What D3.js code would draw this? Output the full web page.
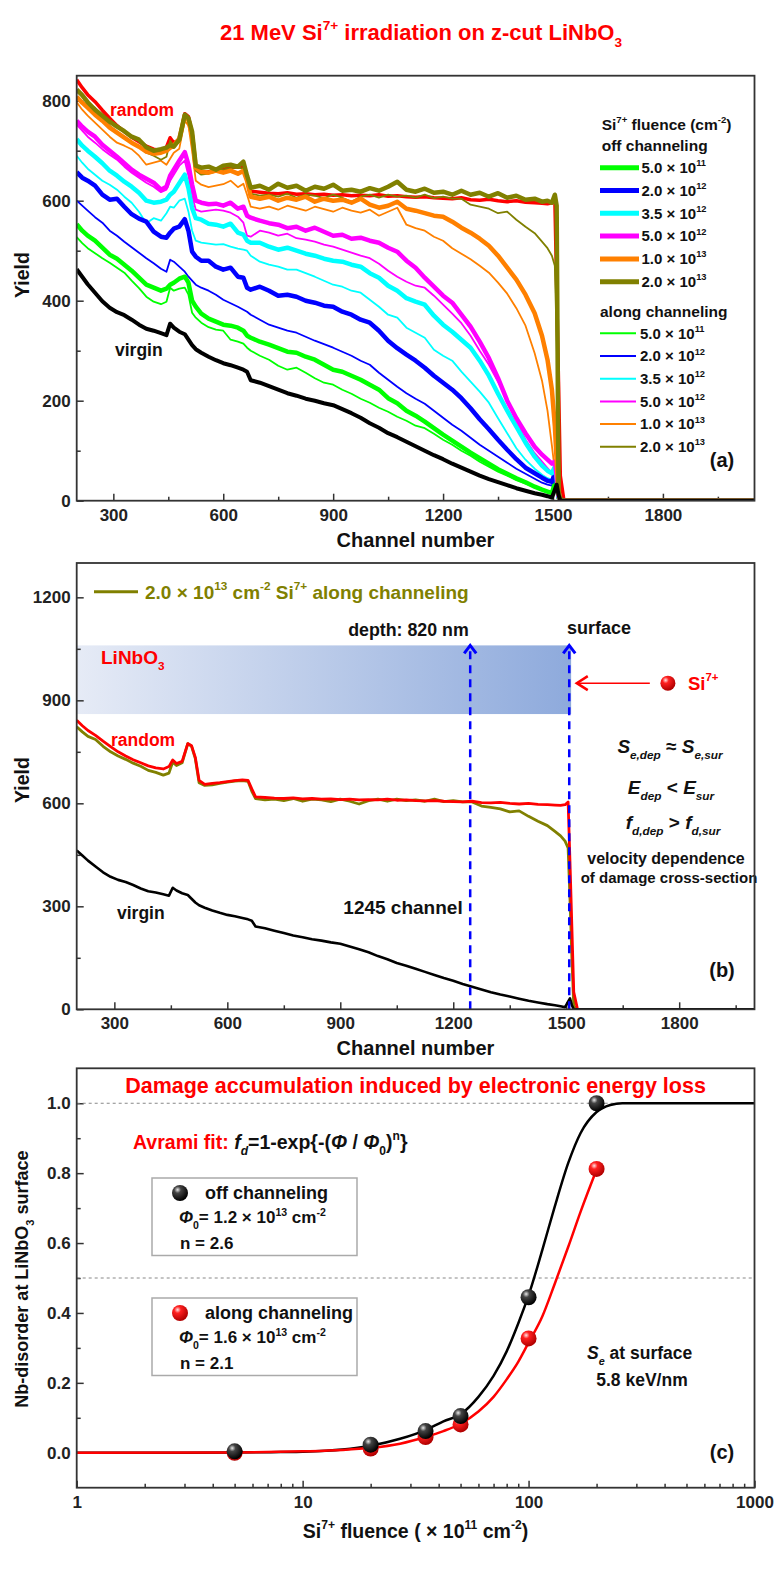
<!DOCTYPE html>
<html>
<head>
<meta charset="utf-8">
<script src="https://cdn.jsdelivr.net/npm/d3@7"></script>
<style>
  body { margin: 0; background: #fff; }
  svg { display: block; font-family: "Liberation Sans", Arial, sans-serif; font-weight: bold; }
</style>
</head>
<body>
<div id="chart"></div>
<script>
// ---- panel (a)/(b) RBS spectra ----
const channels = [
  200,215,230,250,270,290,310,330,350,370,
  390,410,430,445,455,465,480,495,505,515,
  525,540,560,580,600,620,640,655,665,675,
  700,725,750,775,800,825,850,875,900,925,
  950,975,1000,1025,1050,1075,1100,1125,1150,1175,
  1200,1225,1250,1275,1300,1325,1350,1375,1400,1425,
  1450,1470,1485,1497,1505,1510,1515,1520,1530,2050];

const virgin = [
  463,448,433,416,399,386,377,371,362,352,
  344,340,335,331,354,346,338,333,322,311,
  303,296,288,281,275,271,266,262,258,241,
  236,229,222,215,210,204,200,195,191,183,
  175,166,155,146,135,127,118,109,100,91,
  83,74,66,58,50,43,37,31,25,20,
  15,12,9,6,22,32,12,0,0,0];

const random = [
  842,826,812,798,781,765,750,738,727,718,
  709,703,700,707,726,716,722,774,768,734,
  667,655,658,660,663,666,668,667,642,619,
  617,615,614,616,613,614,612,613,611,612,
  610,611,610,612,609,610,608,607,608,606,
  605,604,606,602,601,603,600,598,600,597,
  596,595,594,596,604,430,240,50,0,0];

// off channeling (thick)
const off05 = [
  553,540,530,520,506,492,484,472,460,446,
  432,426,420,424,432,436,444,448,436,400,
  388,374,364,358,352,350,346,340,330,326,
  318,312,305,298,296,288,282,272,262,258,
  250,242,232,222,205,195,180,170,158,145,
  132,120,108,96,85,74,63,54,45,37,
  28,22,18,15,35,32,6,0,0,0];
const off2 = [
  657,646,640,630,612,602,604,588,573,564,
  558,538,528,526,536,544,548,563,540,498,
  488,480,480,468,462,466,448,446,426,422,
  428,420,410,412,408,400,396,390,388,378,
  372,362,356,340,320,305,292,280,266,250,
  236,222,205,185,163,143,122,102,83,66,
  55,46,40,38,55,40,8,0,0,0];
const off35 = [
  723,710,700,688,675,660,650,638,628,616,
  600,596,598,602,612,618,635,652,625,585,
  565,562,554,552,548,554,536,532,520,516,
  516,508,502,506,500,494,490,484,480,478,
  472,468,455,446,430,420,405,398,392,370,
  352,338,322,306,280,250,214,180,148,116,
  88,70,60,55,68,45,8,0,0,0];
const off5 = [
  760,748,738,728,712,700,688,675,662,652,
  644,636,622,628,650,662,680,697,672,632,
  600,596,593,594,590,596,584,588,570,566,
  560,555,552,545,548,540,546,538,530,532,
  524,526,520,516,506,498,480,466,446,428,
  410,396,372,348,318,285,245,200,165,135,
  108,92,82,74,78,50,10,0,0,0];
const off10 = [
  808,796,786,772,760,746,736,726,716,708,
  698,694,696,700,706,710,724,770,762,730,
  666,658,656,660,656,660,654,660,640,608,
  604,608,600,606,602,608,598,604,600,602,
  596,604,592,586,590,598,584,580,575,570,
  568,558,546,536,524,510,490,466,442,412,
  375,330,282,222,150,80,15,0,0,0];
const off20 = [
  822,811,797,782,770,758,748,739,728,722,
  707,700,703,706,711,708,722,772,765,738,
  670,666,668,662,670,672,668,678,650,626,
  630,622,634,626,630,620,628,624,632,620,
  622,618,625,620,628,638,622,618,624,616,
  618,612,620,612,616,608,615,606,610,602,
  604,598,600,596,612,590,20,0,0,0];

// along channeling (thin)
const al05 = [
  527,515,505,495,485,476,466,456,440,425,
  408,398,393,398,426,420,424,426,412,376,
  366,356,347,342,340,322,318,314,306,300,
  290,282,270,262,266,256,245,236,232,222,
  214,204,196,186,178,168,160,150,145,134,
  122,112,100,90,78,68,58,50,41,34,
  27,22,18,14,32,30,6,0,0,0];
const al2 = [
  600,590,580,567,556,540,530,518,507,496,
  485,475,464,458,482,478,468,458,448,440,
  432,426,420,412,402,395,388,382,378,372,
  362,352,346,340,336,328,320,313,306,298,
  290,280,272,256,242,228,215,204,194,180,
  166,152,140,126,112,100,88,76,64,54,
  44,36,32,30,48,35,8,0,0,0];
const al35 = [
  690,676,664,652,640,632,622,608,596,578,
  555,565,560,575,588,586,600,604,578,540,
  520,516,514,512,513,508,504,502,500,490,
  478,472,468,462,462,455,448,440,432,428,
  420,416,402,388,372,366,346,336,326,302,
  290,280,258,238,218,196,165,135,105,82,
  64,52,45,42,58,40,8,0,0,0];
const al5 = [
  752,740,728,716,703,692,682,668,656,646,
  636,628,617,622,640,652,670,680,650,610,
  582,578,580,582,580,576,568,556,530,528,
  540,536,530,534,525,522,518,512,508,502,
  496,490,485,474,460,448,438,430,426,410,
  392,374,355,330,300,272,238,200,160,122,
  95,78,65,55,60,40,8,0,0,0];
const al10 = [
  797,782,770,756,742,728,716,710,703,690,
  672,676,680,672,684,696,704,760,750,700,
  640,632,627,630,633,640,627,634,612,588,
  584,588,582,590,585,580,588,583,578,586,
  580,576,582,570,578,586,552,545,540,528,
  520,505,494,483,470,456,436,414,385,350,
  295,240,180,110,60,30,8,0,0,0];
const al20 = [
  823,808,795,786,766,750,738,728,717,708,
  696,690,682,688,720,710,718,774,766,730,
  660,652,654,658,662,665,666,664,635,614,
  610,612,608,614,606,612,610,605,612,606,
  598,608,612,606,612,608,610,606,612,605,
  608,604,604,592,588,584,575,578,562,548,
  535,518,505,490,470,320,150,10,0,0];

const fluenceMant = ["5.0", "2.0", "3.5", "5.0", "1.0", "2.0"];
const fluenceExp = ["11", "12", "12", "12", "13", "13"];
const seriesColors = ["#00ff00", "#0000ff", "#00ffff", "#ff00ff", "#ff8000", "#808000"];

// ---- panel (c) disorder vs fluence ----
const fluence = [5, 20, 35, 50, 100, 200];
const offDisorder = [0.004, 0.023, 0.062, 0.105, 0.445, 1.0];
const alongDisorder = [0.0, 0.012, 0.045, 0.081, 0.327, 0.812];
const fitOffX = [1, 3, 5, 8, 10, 15, 20, 27, 35, 42, 50, 60, 70, 80, 90, 100, 115, 130, 150, 170, 200, 230, 260, 300, 400, 1000];
const fitOffY = [0, 0, 0.0005, 0.002, 0.003, 0.009, 0.02, 0.04, 0.065, 0.09, 0.11, 0.16, 0.22, 0.29, 0.37, 0.45, 0.58, 0.70, 0.83, 0.915, 0.975, 0.995, 1.0, 1.0, 1.0, 1.0];
const fitAlongX = [1, 5, 10, 15, 20, 27, 35, 42, 50, 60, 70, 80, 90, 100, 115, 130, 150, 170, 200];
const fitAlongY = [0, 0.001, 0.004, 0.008, 0.014, 0.026, 0.045, 0.062, 0.083, 0.118, 0.16, 0.21, 0.26, 0.315, 0.39, 0.48, 0.59, 0.69, 0.81];

const W = 775, H = 1580;
const L = 76.7, R = 754.5;

const svg = d3.select("#chart").append("svg")
    .attr("width", W).attr("height", H)
    .attr("viewBox", [0, 0, W, H]);
const defs = svg.append("defs");

// text with sub/superscripts: parts are strings or [text, mode, fill]
function rich(parent, x, y, parts, o = {}) {
  const fs = o.size || 16;
  const t = parent.append("text")
      .attr("x", x).attr("y", y + fs * 0.35)
      .attr("font-size", fs)
      .attr("font-weight", "bold")
      .attr("fill", o.fill || "#111")
      .attr("text-anchor", o.anchor || "start");
  if (o.family) t.attr("font-family", o.family);
  if (o.italic) t.attr("font-style", "italic");
  let cur = 0;
  parts.forEach(p => {
    const [txt, mode = "", fill] = typeof p === "string" ? [p, ""] : p;
    const sup = mode.includes("sup"), sub = mode.includes("sub");
    const target = sup ? -0.45 * fs : sub ? 0.32 * fs : 0;
    const s = t.append("tspan").attr("dy", target - cur).text(txt);
    if (sup || sub) s.attr("font-size", fs * 0.62);
    if (mode.includes("i")) s.attr("font-style", "italic");
    if (fill) s.attr("fill", fill);
    cur = target;
  });
  return t;
}

function axes(x, y, xMajor, xMinor, yMajor, yMinor, xFmt, yFmt) {
  const [yb0] = y.range();
  const [xl] = x.range();
  const g = svg.append("g");
  g.append("g").attr("transform", `translate(0,${yb0})`)
      .call(d3.axisBottom(x).tickValues(xMinor).tickSize(-4).tickFormat(""));
  g.append("g").attr("transform", `translate(0,${yb0})`)
      .call(d3.axisBottom(x).tickValues(xMajor).tickSize(-7).tickPadding(8).tickFormat(xFmt));
  g.append("g").attr("transform", `translate(${xl},0)`)
      .call(d3.axisLeft(y).tickValues(yMinor).tickSize(-4).tickFormat(""));
  g.append("g").attr("transform", `translate(${xl},0)`)
      .call(d3.axisLeft(y).tickValues(yMajor).tickSize(-7).tickPadding(6).tickFormat(yFmt));
  g.selectAll(".domain").remove();
  g.selectAll("g").attr("font-family", null).attr("font-size", null);
  g.selectAll(".tick line").attr("stroke", "#333").attr("stroke-width", 1.5);
  g.selectAll(".tick text").attr("font-size", 17).attr("fill", "#222");
  return g;
}

function frame(x, y) {
  const [yb0, yb1] = y.range();
  const [xl, xr] = x.range();
  svg.append("rect")
      .attr("x", xl).attr("y", yb1)
      .attr("width", xr - xl).attr("height", yb0 - yb1)
      .attr("fill", "none").attr("stroke", "#333").attr("stroke-width", 1.8);
}

function clip(id, x, y) {
  const [yb0, yb1] = y.range();
  const [xl, xr] = x.range();
  defs.append("clipPath").attr("id", id).append("rect")
      .attr("x", xl).attr("y", yb1).attr("width", xr - xl).attr("height", yb0 - yb1);
  return svg.append("g").attr("clip-path", `url(#${id})`);
}

// ---------- title ----------
rich(svg, 421, 32, ["21 MeV Si", ["7+", "sup"], " irradiation on z-cut LiNbO", ["3", "sub"]],
  { size: 22, fill: "#ff0000", anchor: "middle", family: "'Liberation Sans Narrow', 'Arial Narrow', sans-serif" });

// ---------- panel (a) ----------
const xa = d3.scaleLinear().domain([200, 2050]).range([L, R]);
const ya = d3.scaleLinear().domain([0, 850]).range([500.7, 75.7]);
axes(xa, ya, [300, 600, 900, 1200, 1500, 1800], [450, 750, 1050, 1350, 1650, 1950],
  [0, 200, 400, 600, 800], [100, 300, 500, 700], d3.format("d"), d3.format("d"));

const lineA = d3.line().x((d, i) => xa(channels[i])).y(d => ya(d));
const ga = clip("clipA", xa, ya);
const offSeries = [off05, off2, off35, off5, off10, off20];
const alongSeries = [al05, al2, al35, al5, al10, al20];

ga.append("path").attr("d", lineA(random)).attr("fill", "none")
    .attr("stroke", "#ff0000").attr("stroke-width", 3.5).attr("stroke-linejoin", "round");
alongSeries.forEach((s, k) => {
  ga.append("path").attr("d", lineA(s)).attr("fill", "none")
      .attr("stroke", seriesColors[k]).attr("stroke-width", 1.8).attr("stroke-linejoin", "round");
});
offSeries.forEach((s, k) => {
  ga.append("path").attr("d", lineA(s)).attr("fill", "none")
      .attr("stroke", seriesColors[k]).attr("stroke-width", 4.5).attr("stroke-linejoin", "round");
});
ga.append("path").attr("d", lineA(virgin)).attr("fill", "none")
    .attr("stroke", "#000").attr("stroke-width", 4).attr("stroke-linejoin", "round");

rich(svg, 110, 110, ["random"], { size: 17.5, fill: "#ff0000" });
rich(svg, 115, 350, ["virgin"], { size: 17.5 });

// legend (a)
const lg = svg.append("g");
rich(lg, 601.7, 125, ["Si", ["7+", "sup"], " fluence (cm", ["-2", "sup"], ")"], { size: 15.5 });
rich(lg, 601.7, 146, ["off channeling"], { size: 15.5 });
fluenceMant.forEach((m, k) => {
  const yy = 167.7 + k * 22.8;
  lg.append("line").attr("x1", 600).attr("x2", 639).attr("y1", yy).attr("y2", yy)
      .attr("stroke", seriesColors[k]).attr("stroke-width", 5);
  rich(lg, 641.5, yy, [m + " × 10", [fluenceExp[k], "sup"]], { size: 15 });
});
rich(lg, 600, 311.7, ["along channeling"], { size: 15.5 });
fluenceMant.forEach((m, k) => {
  const yy = 333.3 + k * 22.7;
  lg.append("line").attr("x1", 600).attr("x2", 636).attr("y1", yy).attr("y2", yy)
      .attr("stroke", seriesColors[k]).attr("stroke-width", 2);
  rich(lg, 640, yy, [m + " × 10", [fluenceExp[k], "sup"]], { size: 15 });
});
rich(svg, 722, 460, ["(a)"], { size: 20, anchor: "middle" });

svg.append("g").attr("transform", "translate(22,275) rotate(-90)")
    .call(g => rich(g, 0, 0, ["Yield"], { size: 19.5, anchor: "middle" }));
rich(svg, 415.5, 540, ["Channel number"], { size: 20, anchor: "middle" });
frame(xa, ya);

// ---------- panel (b) ----------
const xb = d3.scaleLinear().domain([200, 2000]).range([L, R]);
const yb = d3.scaleLinear().domain([0, 1300]).range([1009.3, 563]);

const grad = defs.append("linearGradient").attr("id", "band")
    .attr("x1", "0%").attr("x2", "100%").attr("y1", "0%").attr("y2", "0%");
grad.append("stop").attr("offset", "0%").attr("stop-color", "#e6ebf6");
grad.append("stop").attr("offset", "100%").attr("stop-color", "#8eaadc");
svg.append("rect")
    .attr("x", xb(200)).attr("y", yb(1060))
    .attr("width", xb(1513) - xb(200)).attr("height", yb(860) - yb(1060))
    .attr("fill", "url(#band)");

axes(xb, yb, [300, 600, 900, 1200, 1500, 1800], [450, 750, 1050, 1350, 1650, 1950],
  [0, 300, 600, 900, 1200], [150, 450, 750, 1050], d3.format("d"), d3.format("d"));

const lineB = d3.line().x((d, i) => xb(channels[i])).y(d => yb(d));
const gb = clip("clipB", xb, yb);
gb.append("path").attr("d", lineB(al20)).attr("fill", "none")
    .attr("stroke", "#808000").attr("stroke-width", 2.8).attr("stroke-linejoin", "round");
gb.append("path").attr("d", lineB(random)).attr("fill", "none")
    .attr("stroke", "#ff0000").attr("stroke-width", 2.8).attr("stroke-linejoin", "round");
gb.append("path").attr("d", lineB(virgin)).attr("fill", "none")
    .attr("stroke", "#000").attr("stroke-width", 2.6).attr("stroke-linejoin", "round");

// depth / surface markers
const depthChannel = 1245, surfaceChannel = 1508;
[depthChannel, surfaceChannel].forEach(c => {
  svg.append("line")
      .attr("x1", xb(c)).attr("x2", xb(c))
      .attr("y1", yb(0)).attr("y2", yb(1052))
      .attr("stroke", "#0000ff").attr("stroke-width", 2.5).attr("stroke-dasharray", "8,6");
  svg.append("path")
      .attr("d", `M${xb(c) - 6},${yb(1060) + 8} L${xb(c)},${yb(1060)} L${xb(c) + 6},${yb(1060) + 8}`)
      .attr("fill", "none").attr("stroke", "#0000ff").attr("stroke-width", 3)
      .attr("stroke-linejoin", "miter");
});

// incoming ion
svg.append("line")
    .attr("x1", xb(1528)).attr("x2", xb(1722))
    .attr("y1", yb(950)).attr("y2", yb(950))
    .attr("stroke", "#ff0000").attr("stroke-width", 1.5);
svg.append("path")
    .attr("d", `M${xb(1528) + 11},${yb(950) - 7} L${xb(1528)},${yb(950)} L${xb(1528) + 11},${yb(950) + 7}`)
    .attr("fill", "none").attr("stroke", "#ff0000").attr("stroke-width", 2.5);

const rg = defs.append("radialGradient").attr("id", "redBall")
    .attr("cx", "35%").attr("cy", "30%").attr("r", "70%");
rg.append("stop").attr("offset", "0%").attr("stop-color", "#ffe4e4");
rg.append("stop").attr("offset", "30%").attr("stop-color", "#ff2020");
rg.append("stop").attr("offset", "100%").attr("stop-color", "#b00000");
const bg = defs.append("radialGradient").attr("id", "blackBall")
    .attr("cx", "35%").attr("cy", "30%").attr("r", "70%");
bg.append("stop").attr("offset", "0%").attr("stop-color", "#e8e8e8");
bg.append("stop").attr("offset", "30%").attr("stop-color", "#444");
bg.append("stop").attr("offset", "100%").attr("stop-color", "#000");

svg.append("circle").attr("cx", xb(1770)).attr("cy", yb(950)).attr("r", 7.5).attr("fill", "url(#redBall)");
rich(svg, 688, yb(950), ["Si", ["7+", "sup"]], { size: 18.5, fill: "#ff0000" });

// legend (b)
svg.append("line").attr("x1", 94).attr("x2", 138).attr("y1", 591.7).attr("y2", 591.7)
    .attr("stroke", "#808000").attr("stroke-width", 3);
rich(svg, 145, 592, ["2.0 × 10", ["13", "sup"], " cm", ["-2", "sup"], " Si", ["7+", "sup"], " along channeling"],
  { size: 19, fill: "#808000" });

rich(svg, 101, 657, ["LiNbO", ["3", "sub"]], { size: 19, fill: "#ff0000" });
rich(svg, 408.5, 630, ["depth: 820 nm"], { size: 17.8, anchor: "middle" });
rich(svg, 599, 628, ["surface"], { size: 18, anchor: "middle" });
rich(svg, 111, 740, ["random"], { size: 17.5, fill: "#ff0000" });
rich(svg, 117, 913, ["virgin"], { size: 17.5 });
rich(svg, 403, 907, ["1245 channel"], { size: 19, anchor: "middle" });

rich(svg, 670, 746, [["S", "i"], ["e,dep", "isub"], " ≈ ", ["S", "i"], ["e,sur", "isub"]], { size: 19, anchor: "middle" });
rich(svg, 671, 787, [["E", "i"], ["dep", "isub"], " < ", ["E", "i"], ["sur", "isub"]], { size: 19, anchor: "middle" });
rich(svg, 673, 822, [["f", "i"], ["d,dep", "isub"], " > ", ["f", "i"], ["d,sur", "isub"]], { size: 19, anchor: "middle" });
rich(svg, 666, 858, ["velocity dependence"], { size: 16, anchor: "middle" });
rich(svg, 669, 878, ["of damage cross-section"], { size: 15, anchor: "middle" });
rich(svg, 722, 970, ["(b)"], { size: 20, anchor: "middle" });

svg.append("g").attr("transform", "translate(22,780) rotate(-90)")
    .call(g => rich(g, 0, 0, ["Yield"], { size: 19.5, anchor: "middle" }));
rich(svg, 415.5, 1048, ["Channel number"], { size: 20, anchor: "middle" });
frame(xb, yb);

// ---------- panel (c) ----------
const xc = d3.scaleLog().domain([1, 1000]).range([L, R]);
const yc = d3.scaleLinear().domain([-0.1, 1.1]).range([1487.7, 1068.3]);
const logMinor = [];
[1, 10, 100].forEach(dec => { for (let m = 2; m <= 9; m++) logMinor.push(dec * m); });
axes(xc, yc, [1, 10, 100, 1000], logMinor,
  [0, 0.2, 0.4, 0.6, 0.8, 1.0], [0.1, 0.3, 0.5, 0.7, 0.9], d3.format("d"), d3.format(".1f"));

[1.0, 0.5].forEach(v => {
  svg.append("line").attr("x1", xc(1)).attr("x2", xc(1000))
      .attr("y1", yc(v)).attr("y2", yc(v))
      .attr("stroke", "#888").attr("stroke-width", 1).attr("stroke-dasharray", "3,3");
});

const gc = clip("clipC", xc, yc);
const fitLine = d3.line().curve(d3.curveMonotoneX);
gc.append("path")
    .attr("d", fitLine(fitOffX.map((v, i) => [xc(v), yc(fitOffY[i])])))
    .attr("fill", "none").attr("stroke", "#000").attr("stroke-width", 2.5);
gc.append("path")
    .attr("d", fitLine(fitAlongX.map((v, i) => [xc(v), yc(fitAlongY[i])])))
    .attr("fill", "none").attr("stroke", "#ff0000").attr("stroke-width", 2.5);

svg.append("g").selectAll("circle").data(fluence).join("circle")
    .attr("cx", d => xc(d)).attr("cy", (d, i) => yc(alongDisorder[i]))
    .attr("r", 8).attr("fill", "url(#redBall)");
svg.append("g").selectAll("circle").data(fluence).join("circle")
    .attr("cx", d => xc(d)).attr("cy", (d, i) => yc(offDisorder[i]))
    .attr("r", 8).attr("fill", "url(#blackBall)");

rich(svg, 415.5, 1085, ["Damage accumulation induced by electronic energy loss"], { size: 21.5, fill: "#ff0000", anchor: "middle" });
rich(svg, 133, 1142, [["Avrami fit: ", "", "#ff0000"], ["f", "i"], ["d", "isub"], "=1-exp{-(", ["Φ", "i"], " / ", ["Φ", "i"], ["0", "sub"], ")", ["n", "sup"], "}"], { size: 19.5 });

// parameter boxes
[[1178, "#blackBall", "off channeling", "1.2", "2.6"], [1298, "#redBall", "along channeling", "1.6", "2.1"]].forEach(([top, ball, label, phi, n]) => {
  svg.append("rect").attr("x", 152).attr("y", top).attr("width", 205).attr("height", 77.5)
      .attr("fill", "#fff").attr("stroke", "#aaa").attr("stroke-width", 1.5);
  svg.append("circle").attr("cx", 180).attr("cy", top + 15).attr("r", 8).attr("fill", `url(${ball})`);
  rich(svg, 205, top + 15, [label], { size: 18 });
  rich(svg, 179, top + 39.5, [["Φ", "i"], ["0", "sub"], "= " + phi + " × 10", ["13", "sup"], " cm", ["-2", "sup"]], { size: 17 });
  rich(svg, 180, top + 65, ["n = " + n], { size: 17 });
});

rich(svg, 587, 1353, [["S", "i"], ["e", "isub"], " at surface"], { size: 17.5 });
rich(svg, 642, 1380, ["5.8 keV/nm"], { size: 17.5, anchor: "middle" });
rich(svg, 722, 1452, ["(c)"], { size: 20, anchor: "middle" });

svg.append("g").attr("transform", "translate(22,1279) rotate(-90)")
    .call(g => rich(g, 0, 0, ["Nb-disorder at LiNbO", ["3", "sub"], " surface"], { size: 18, anchor: "middle" }));
rich(svg, 415.5, 1531, ["Si", ["7+", "sup"], " fluence ( × 10", ["11", "sup"], " cm", ["-2", "sup"], ")"], { size: 19.5, anchor: "middle" });
frame(xc, yc);
</script>
</body>
</html>
